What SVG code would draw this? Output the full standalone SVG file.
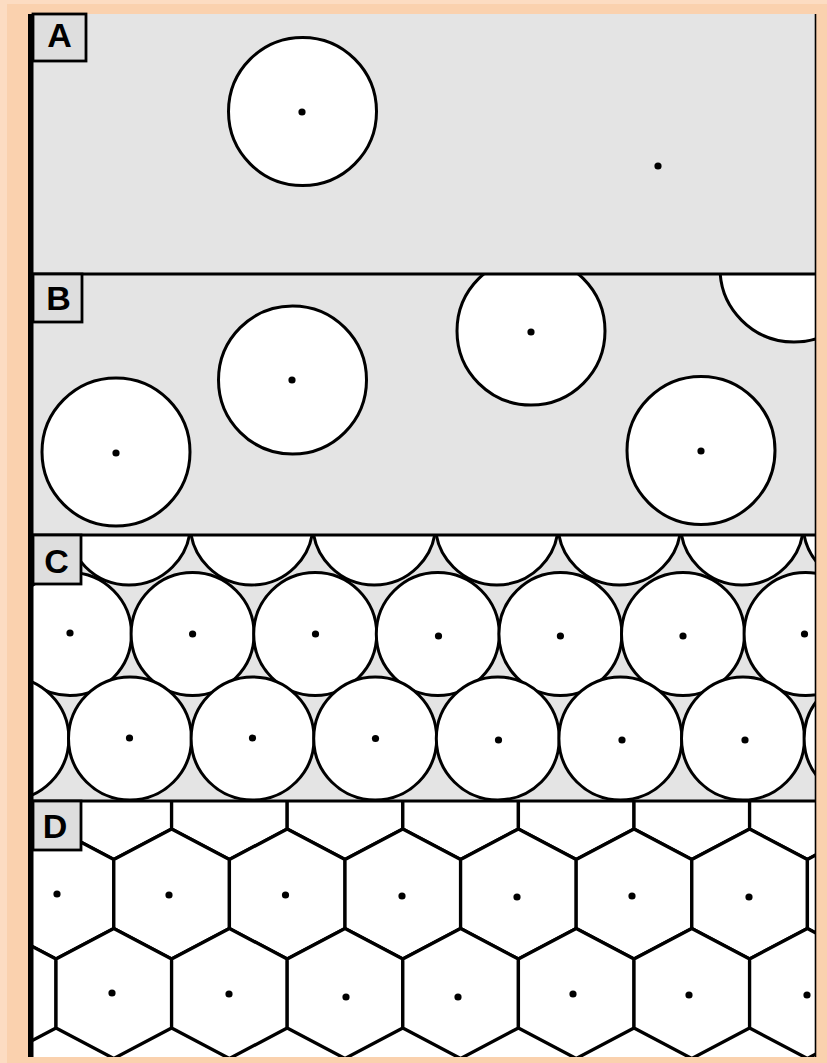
<svg xmlns="http://www.w3.org/2000/svg" width="827" height="1063" viewBox="0 0 827 1063">
<style>
.bg{fill:#e4e4e4}
.c{fill:#fff;stroke:#000;stroke-width:3}
.h{fill:#fff;stroke:#000;stroke-width:3.3;stroke-linejoin:round}
.d{fill:#000}
.box{fill:#dedede;stroke:#000;stroke-width:2.8}
.lbl{font-family:"Liberation Sans",Arial,sans-serif;font-weight:bold;font-size:34px;fill:#000;text-anchor:middle}
.div{stroke:#000;stroke-width:2.8}
</style>
<defs>
<clipPath id="clipA"><rect x="33" y="14" width="783" height="260"/></clipPath>
<clipPath id="clipB"><rect x="33" y="274" width="783" height="261"/></clipPath>
<clipPath id="clipC"><rect x="33" y="535" width="783" height="266"/></clipPath>
<clipPath id="clipD"><rect x="33" y="801" width="783" height="256"/></clipPath>
</defs>
<rect x="0" y="0" width="827" height="1063" fill="#fad1ae"/>
<rect x="0" y="0" width="827" height="4" fill="#fcdcc2"/>
<rect x="0" y="0" width="7" height="1063" fill="#fcdcc2"/>

<g id="panelA">
<rect class="bg" x="33" y="14" width="783" height="260"/>
<g clip-path="url(#clipA)">
<circle class="c" cx="302.5" cy="111.5" r="74"/>
<circle class="d" cx="302" cy="112" r="3.6"/>
<circle class="d" cx="658" cy="166" r="3.6"/>
</g>
</g>

<g id="panelB">
<rect class="bg" x="33" y="274" width="783" height="261"/>
<g clip-path="url(#clipB)">
<circle class="c" cx="116" cy="452" r="74"/>
<circle class="d" cx="116" cy="453" r="3.6"/>
<circle class="c" cx="292.5" cy="380" r="74"/>
<circle class="d" cx="292" cy="380" r="3.6"/>
<circle class="c" cx="531" cy="331" r="74"/>
<circle class="d" cx="531" cy="332" r="3.6"/>
<circle class="c" cx="701" cy="450.5" r="74"/>
<circle class="d" cx="701" cy="451" r="3.6"/>
<circle class="c" cx="794" cy="268" r="74"/>
</g>
</g>

<g id="panelC">
<rect class="bg" x="33" y="535" width="783" height="266" fill="#e0e0e0"/>
<g clip-path="url(#clipC)">
<g id="rowTop">
<circle class="c" cx="6.4" cy="523.5" r="61.5"/>
<circle class="c" cx="129" cy="523.5" r="61.5"/>
<circle class="c" cx="251.6" cy="523.5" r="61.5"/>
<circle class="c" cx="374.2" cy="523.5" r="61.5"/>
<circle class="c" cx="496.8" cy="523.5" r="61.5"/>
<circle class="c" cx="619.4" cy="523.5" r="61.5"/>
<circle class="c" cx="742" cy="523.5" r="61.5"/>
<circle class="c" cx="864.6" cy="523.5" r="61.5"/>
</g>
<g id="rowMid">
<circle class="c" cx="70" cy="634" r="61.5"/>
<circle class="c" cx="192.6" cy="634" r="61.5"/>
<circle class="c" cx="315.2" cy="634" r="61.5"/>
<circle class="c" cx="437.8" cy="634" r="61.5"/>
<circle class="c" cx="560.4" cy="634" r="61.5"/>
<circle class="c" cx="683" cy="634" r="61.5"/>
<circle class="c" cx="805.6" cy="634" r="61.5"/>
<circle class="d" cx="70" cy="633" r="3.6"/>
<circle class="d" cx="192.6" cy="634" r="3.6"/>
<circle class="d" cx="315.5" cy="634" r="3.6"/>
<circle class="d" cx="438.5" cy="636" r="3.6"/>
<circle class="d" cx="560.4" cy="636" r="3.6"/>
<circle class="d" cx="683" cy="636" r="3.6"/>
<circle class="d" cx="804.5" cy="634" r="3.6"/>
</g>
<g id="rowBot">
<circle class="c" cx="7.4" cy="738.5" r="61.5"/>
<circle class="c" cx="130" cy="738.5" r="61.5"/>
<circle class="c" cx="252.6" cy="738.5" r="61.5"/>
<circle class="c" cx="375.2" cy="738.5" r="61.5"/>
<circle class="c" cx="497.8" cy="738.5" r="61.5"/>
<circle class="c" cx="620.4" cy="738.5" r="61.5"/>
<circle class="c" cx="743" cy="738.5" r="61.5"/>
<circle class="c" cx="865.6" cy="738.5" r="61.5"/>
<circle class="d" cx="129.5" cy="738" r="3.6"/>
<circle class="d" cx="252.5" cy="738" r="3.6"/>
<circle class="d" cx="375.5" cy="738.5" r="3.6"/>
<circle class="d" cx="498.5" cy="740" r="3.6"/>
<circle class="d" cx="622" cy="740" r="3.6"/>
<circle class="d" cx="745" cy="740" r="3.6"/>
</g>
</g>
</g>

<g id="panelD">
<rect x="33" y="801" width="783" height="256" fill="#fff"/>
<g clip-path="url(#clipD)">
<g id="hexRow0">
<polygon class="h" points="-1.8,729.5 56,760 56,829 -1.8,859.5 -59.6,829 -59.6,760"/>
<polygon class="h" points="113.8,729.5 171.6,760 171.6,829 113.8,859.5 56,829 56,760"/>
<polygon class="h" points="229.4,729.5 287.2,760 287.2,829 229.4,859.5 171.6,829 171.6,760"/>
<polygon class="h" points="345,729.5 402.8,760 402.8,829 345,859.5 287.2,829 287.2,760"/>
<polygon class="h" points="460.6,729.5 518.4,760 518.4,829 460.6,859.5 402.8,829 402.8,760"/>
<polygon class="h" points="576.2,729.5 634,760 634,829 576.2,859.5 518.4,829 518.4,760"/>
<polygon class="h" points="691.8,729.5 749.6,760 749.6,829 691.8,859.5 634,829 634,760"/>
<polygon class="h" points="807.4,729.5 865.2,760 865.2,829 807.4,859.5 749.6,829 749.6,760"/>
</g>
<g id="hexRow1">
<polygon class="h" points="56,829 113.8,859.5 113.8,928.5 56,959 -1.8,928.5 -1.8,859.5"/>
<polygon class="h" points="171.6,829 229.4,859.5 229.4,928.5 171.6,959 113.8,928.5 113.8,859.5"/>
<polygon class="h" points="287.2,829 345,859.5 345,928.5 287.2,959 229.4,928.5 229.4,859.5"/>
<polygon class="h" points="402.8,829 460.6,859.5 460.6,928.5 402.8,959 345,928.5 345,859.5"/>
<polygon class="h" points="518.4,829 576.2,859.5 576.2,928.5 518.4,959 460.6,928.5 460.6,859.5"/>
<polygon class="h" points="634,829 691.8,859.5 691.8,928.5 634,959 576.2,928.5 576.2,859.5"/>
<polygon class="h" points="749.6,829 807.4,859.5 807.4,928.5 749.6,959 691.8,928.5 691.8,859.5"/>
<polygon class="h" points="865.2,829 923,859.5 923,928.5 865.2,959 807.4,928.5 807.4,859.5"/>
</g>
<g id="hexRow2">
<polygon class="h" points="-1.8,928.5 56,959 56,1028 -1.8,1058.5 -59.6,1028 -59.6,959"/>
<polygon class="h" points="113.8,928.5 171.6,959 171.6,1028 113.8,1058.5 56,1028 56,959"/>
<polygon class="h" points="229.4,928.5 287.2,959 287.2,1028 229.4,1058.5 171.6,1028 171.6,959"/>
<polygon class="h" points="345,928.5 402.8,959 402.8,1028 345,1058.5 287.2,1028 287.2,959"/>
<polygon class="h" points="460.6,928.5 518.4,959 518.4,1028 460.6,1058.5 402.8,1028 402.8,959"/>
<polygon class="h" points="576.2,928.5 634,959 634,1028 576.2,1058.5 518.4,1028 518.4,959"/>
<polygon class="h" points="691.8,928.5 749.6,959 749.6,1028 691.8,1058.5 634,1028 634,959"/>
<polygon class="h" points="807.4,928.5 865.2,959 865.2,1028 807.4,1058.5 749.6,1028 749.6,959"/>
</g>
<g id="hexDots">
<circle class="d" cx="57" cy="894" r="3.6"/>
<circle class="d" cx="169" cy="895" r="3.6"/>
<circle class="d" cx="285.5" cy="895" r="3.6"/>
<circle class="d" cx="402" cy="896" r="3.6"/>
<circle class="d" cx="517" cy="897" r="3.6"/>
<circle class="d" cx="632" cy="896" r="3.6"/>
<circle class="d" cx="749" cy="897" r="3.6"/>
<circle class="d" cx="112" cy="993" r="3.6"/>
<circle class="d" cx="229" cy="994" r="3.6"/>
<circle class="d" cx="346" cy="997" r="3.6"/>
<circle class="d" cx="458" cy="997" r="3.6"/>
<circle class="d" cx="573" cy="994" r="3.6"/>
<circle class="d" cx="689" cy="995" r="3.6"/>
<circle class="d" cx="807" cy="995" r="3.6"/>
</g>
</g>
</g>

<g id="frame">
<line class="div" x1="33" y1="274" x2="816" y2="274"/>
<line class="div" x1="33" y1="535" x2="816" y2="535"/>
<line class="div" x1="33" y1="801" x2="816" y2="801"/>
<rect x="28" y="14" width="5.5" height="1043" fill="#000"/>
<line x1="815.5" y1="14" x2="815.5" y2="1057" stroke="#000" stroke-width="1.6"/>
</g>

<g id="labelA">
<rect class="box" x="33" y="14" width="53" height="47" fill="#e2e2e2"/>
<text class="lbl" x="59.5" y="47">A</text>
</g>
<g id="labelB">
<rect class="box" x="33" y="274" width="49" height="48"/>
<text class="lbl" x="58.5" y="310">B</text>
</g>
<g id="labelC">
<rect class="box" x="33" y="535" width="48" height="49"/>
<text class="lbl" x="56.5" y="573">C</text>
</g>
<g id="labelD">
<rect class="box" x="33" y="801" width="48" height="49"/>
<text class="lbl" x="55" y="838">D</text>
</g>
</svg>
